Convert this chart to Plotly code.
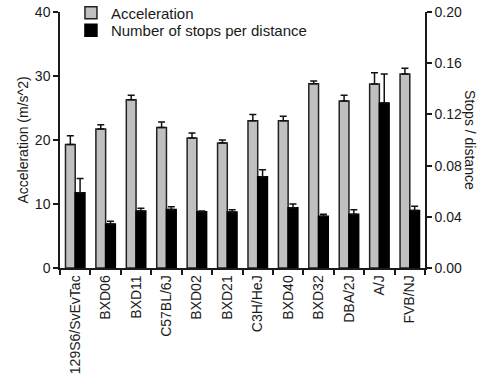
import plotly.graph_objects as go

strains = ["129S6/SvEvTac", "BXD06", "BXD11", "C57BL/6J", "BXD02", "BXD21",
           "C3H/HeJ", "BXD40", "BXD32", "DBA/2J", "A/J", "FVB/NJ"]
accel = [19.3, 21.7, 26.3, 21.95, 20.3, 19.55, 23.0, 23.0, 28.8, 26.1, 28.75, 30.3]
accel_err = [1.35, 0.7, 0.7, 0.85, 0.8, 0.45, 1.0, 0.7, 0.4, 0.9, 1.75, 0.9]
stops = [0.0587, 0.0343, 0.0446, 0.0458, 0.0440, 0.0437, 0.0712, 0.0470, 0.0405, 0.0420, 0.1290, 0.0450]
stops_err = [0.0113, 0.0022, 0.0020, 0.0020, 0.0005, 0.0018, 0.0055, 0.0030, 0.0015, 0.0035, 0.0225, 0.0033]

FONT = "Liberation Sans, Arial, sans-serif"
INK = "#1a1a1a"

fig = go.Figure()
fig.add_trace(go.Bar(
    x=strains, y=accel, name="Acceleration", offsetgroup="a", yaxis="y",
    legend="legend",
    marker=dict(color="#c0c0c0", line=dict(color="#222222", width=1.5)),
    error_y=dict(type="data", symmetric=False, array=accel_err,
                 arrayminus=[0] * len(accel_err), color="#111111",
                 thickness=1.5, width=3.5),
))
fig.add_trace(go.Bar(
    x=strains, y=stops, name="Number of stops per distance", offsetgroup="b", yaxis="y2",
    legend="legend2",
    marker=dict(color="#000000", line=dict(color="#000000", width=1.5)),
    error_y=dict(type="data", symmetric=False, array=stops_err,
                 arrayminus=[0] * len(stops_err), color="#111111",
                 thickness=1.5, width=3.5),
))

leg_common = dict(x=0.03, yref="container", xanchor="left", yanchor="middle",
                  bgcolor="rgba(0,0,0,0)", font=dict(size=15, color=INK),
                  itemwidth=30)

fig.update_layout(
    width=485, height=391,
    margin=dict(l=60, r=60, t=11.5, b=123, pad=0, autoexpand=False),
    paper_bgcolor="white", plot_bgcolor="white",
    barmode="group", bargap=0.36, bargroupgap=0,
    font=dict(family=FONT, size=14, color=INK),
    showlegend=True,
    legend=dict(y=1 - 13 / 391, **leg_common),
    legend2=dict(y=1 - 30.5 / 391, **leg_common),
    xaxis=dict(type="category", range=[-0.5, 11.5], showline=True,
               linecolor=INK, linewidth=1.5, ticks="outside", ticklen=5,
               tickwidth=1.5, tickcolor=INK, tickson="boundaries",
               tickangle=-90, showgrid=False, zeroline=False, automargin=False,
               tickfont=dict(size=14)),
    yaxis=dict(range=[0, 40], tickvals=[0, 10, 20, 30, 40], showline=True,
               linecolor=INK, linewidth=1.5, ticks="outside", ticklen=5,
               tickwidth=1.5, tickcolor=INK, showgrid=False, zeroline=False,
               automargin=False,
               title=dict(text="Acceleration (m/s^2)", standoff=3,
                          font=dict(size=14))),
    yaxis2=dict(range=[0, 0.2], tickvals=[0, 0.04, 0.08, 0.12, 0.16, 0.20],
                tickformat=".2f", overlaying="y", side="right", anchor="x",
                showline=True, linecolor=INK, linewidth=1.5, ticks="outside",
                ticklen=5, tickwidth=1.5, tickcolor=INK, showgrid=False,
                zeroline=False, automargin=False),
    annotations=[dict(text="Stops / distance", textangle=90, xref="paper",
                      yref="paper", x=1.123, y=0.5, xanchor="center",
                      yanchor="middle", showarrow=False,
                      font=dict(size=14, color=INK))],
)

fig.write_html("out.html", config={"displayModeBar": False},
               post_script="document.body.style.margin='0';document.body.style.padding='0';")
